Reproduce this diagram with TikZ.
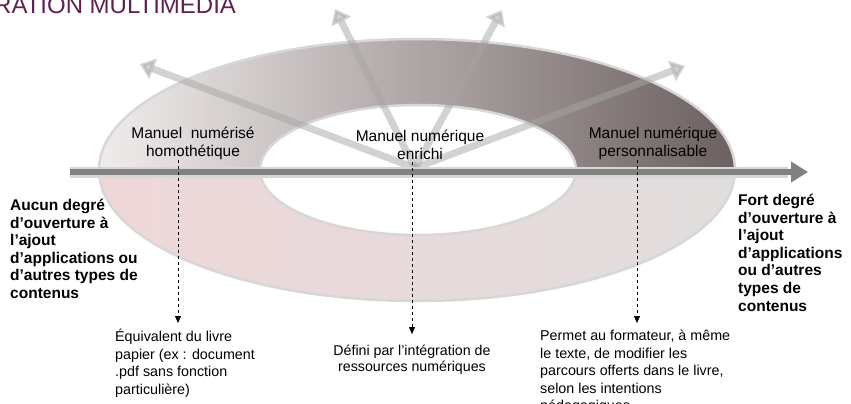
\documentclass[tikz,border=0pt]{standalone}
\usepackage{fontspec}
\setmainfont{Liberation Sans}
\usetikzlibrary{arrows.meta}
\definecolor{titlepurple}{RGB}{96,32,80}
\definecolor{upL}{RGB}{241,236,236}
\definecolor{upM}{RGB}{198,187,188}
\definecolor{upR}{RGB}{108,96,96}
\definecolor{loL}{RGB}{239,215,216}
\definecolor{loM}{RGB}{204,193,194}
\definecolor{loR}{RGB}{224,221,221}
\definecolor{rim}{RGB}{215,215,215}
\definecolor{axisgray}{RGB}{128,128,128}
\begin{document}
\begin{tikzpicture}[x=1pt, y=-1pt,
  sect/.style={font=\fontsize{15.5}{18}\selectfont, align=center, inner sep=0pt},
  side/.style={font=\bfseries\fontsize{15.5}{17.6}\selectfont, align=left, inner sep=0pt},
  note/.style={font=\fontsize{14.3}{17.5}\selectfont, align=left, inner sep=0pt},
  fan/.style={draw=gray!70, line width=7pt, opacity=.5, -{Triangle[width=21pt,length=14pt]}},
  dashline/.style={dashed, thin, -{Triangle[width=6pt,length=7pt]}}]
\useasboundingbox (0,0) rectangle (851,404);
% title, cut by the page
\node[anchor=base west, inner sep=0pt, font=\fontsize{24}{24}\selectfont, text=titlepurple] (title) at (-6,14) {RATION MULTIMEDIA};
% ring, upper half
\begin{scope}
\clip (0,0) rectangle (851,166);
\shade[even odd rule, left color=upL, middle color=upM, right color=upR] (417,170) ellipse [x radius=318pt, y radius=131pt] (418,170) ellipse [x radius=158pt, y radius=65pt];
\draw[rim, line width=2.5pt] (417,170) ellipse [x radius=318pt, y radius=131pt] (418,170) ellipse [x radius=158pt, y radius=65pt];
\end{scope}
% ring, lower half
\begin{scope}
\clip (0,177) rectangle (851,404);
\shade[even odd rule, left color=loL, middle color=loM, right color=loR] (417,170) ellipse [x radius=318pt, y radius=131pt] (418,170) ellipse [x radius=158pt, y radius=65pt];
\draw[rim, line width=2.5pt] (417,170) ellipse [x radius=318pt, y radius=131pt] (418,170) ellipse [x radius=158pt, y radius=65pt];
\end{scope}
% fan of arrows
\coordinate (hub) at (415,168);
\coordinate (f1) at (140,64);
\coordinate (f2) at (335,9);
\coordinate (f3) at (502,10);
\coordinate (f4) at (685,66);
\draw[fan] (hub) -- (f1);
\draw[fan] (hub) -- (f2);
\draw[fan] (hub) -- (f3);
\draw[fan] (hub) -- (f4);
% axis
\coordinate (ax0) at (70,172);
\coordinate (ax1) at (808,172);
\draw[rim, line width=11pt] (ax0) -- ([xshift=-20pt]ax1);
\draw[axisgray, line width=6pt, -{Triangle[width=20pt,length=17pt]}] (ax0) -- (ax1);
% labels on the ring
\node[sect, anchor=north] (hom) at (193,127) {Manuel~~numérisé\\homothétique};
\node[sect, anchor=north] (enr) at (420,130) {Manuel numérique\\enrichi};
\node[sect, anchor=north] (pers) at (653,127) {Manuel numérique\\personnalisable};
% both ends of the axis
\node[side, anchor=north west] (aucun) at (10,199) {Aucun degré\\d’ouverture à\\l’ajout\\d’applications ou\\d’autres types de\\contenus};
\node[side, anchor=north west] (fort) at (738,194) {Fort degré\\d’ouverture à\\l’ajout\\d’applications\\ou d’autres\\types de\\contenus};
% notes below
\node[note, anchor=north west] (eqv) at (115,329) {Équivalent du livre\\papier (ex : document\\.pdf sans fonction\\particulière)};
\node[note, anchor=north, align=center, font=\fontsize{14.2}{16}\selectfont] (def) at (412,345) {Défini par l’intégration de\\ressources numériques};
\node[note, anchor=north west] (perm) at (540,330) {Permet au formateur, à même\\le texte, de modifier les\\parcours offerts dans le livre,\\selon les intentions\\pédagogiques};
% dashed leaders
\coordinate (d1) at (178,160);
\coordinate (d2) at (412,162);
\coordinate (d3) at (637,160);
\draw[dashline] (d1) -- ([yshift=6pt]d1 |- eqv.north);
\draw[dashline] (d2) -- ([yshift=11pt]d2 |- def.north);
\draw[dashline] (d3) -- ([yshift=7pt]d3 |- perm.north);
\end{tikzpicture}
\end{document}
